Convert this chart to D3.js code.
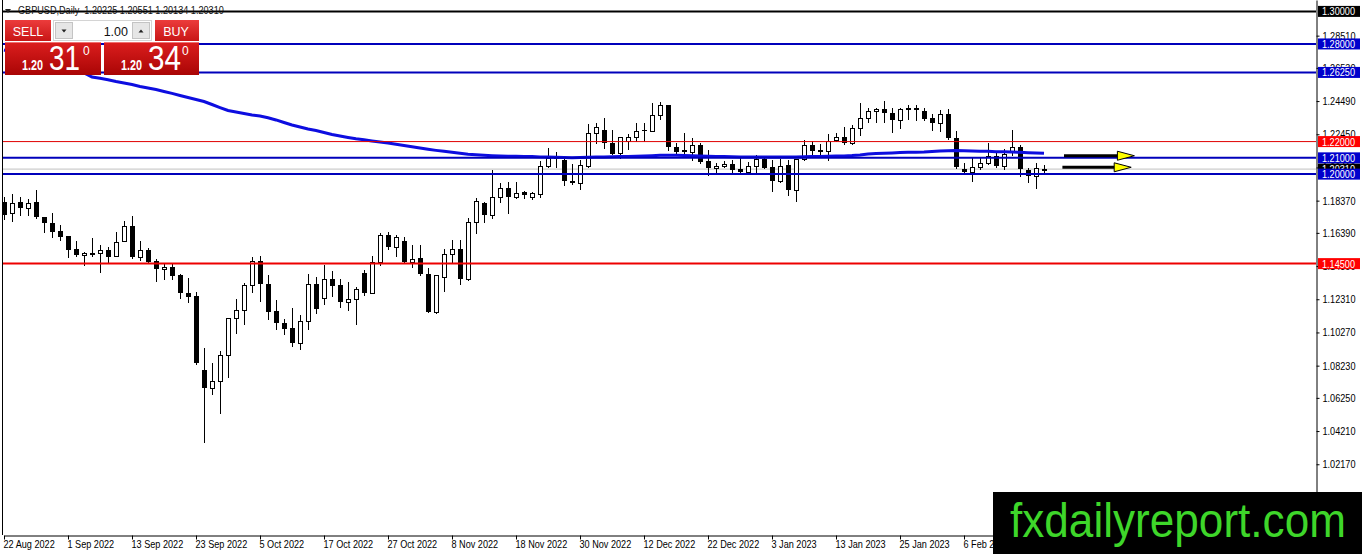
<!DOCTYPE html>
<html lang="en">
<head>
<meta charset="UTF-8">
<title>GBPUSD, Daily</title>
<script src="https://d3js.org/d3.v7.min.js"></script>
<style>
  body { margin: 0; background: #ffffff; overflow: hidden; }
  svg text { font-family: "Liberation Sans", Arial, sans-serif; }
</style>
</head>
<body>
<svg id="chart" width="1362" height="554"></svg>
<script>
// data (daily bars from 22 Aug 2022)
const symbol = "GBPUSD";
const period = "Daily";

const opens = [
  1.1830,1.1759,1.1829,1.1790,1.1827,1.1736,1.1701,1.1650,1.1620,1.1538,
  1.1501,1.1517,1.1513,1.1532,1.1497,1.1591,1.1681,1.1489,1.1534,1.1466,
  1.1415,1.1431,1.1380,1.1271,1.1251,1.0796,1.0684,1.0729,1.0886,1.1114,
  1.1163,1.1319,1.1468,1.1324,1.1159,1.1087,1.1052,1.0960,1.1097,1.1325,
  1.1237,1.1354,1.1318,1.1212,1.1231,1.1390,1.1271,1.1462,1.1626,1.1554,
  1.1589,1.1462,1.1483,1.1386,1.1155,1.1366,1.1507,1.1538,1.1354,1.1708,
  1.1821,1.1749,1.1861,1.1913,1.1858,1.1888,1.1859,1.1878,1.2050,1.2103,
  1.2087,1.1958,1.1944,1.2052,1.2251,1.2271,1.2189,1.2128,1.2205,1.2230,
  1.2273,1.2265,1.2361,1.2425,1.2169,1.2146,1.2138,1.2179,1.2080,1.2036,
  1.2050,1.2062,1.2029,1.2011,1.2050,1.2091,1.2046,1.1960,1.2056,1.1902,
  1.2091,1.2179,1.2144,1.2144,1.2210,1.2226,1.2189,1.2282,1.2343,1.2388,
  1.2400,1.2374,1.2333,1.2408,1.2408,1.2388,1.2343,1.2312,1.2368,1.2220,
  1.2031,1.2015,1.2042,1.2066,1.2113,1.2052,1.2142,1.2169,1.2025,1.1986,
  1.20225
];
const highs = [
  1.1859,1.1878,1.1861,1.1847,1.1902,1.1738,1.1759,1.1687,1.1621,1.1589,
  1.1523,1.1606,1.1564,1.1554,1.1643,1.1714,1.1743,1.1589,1.1544,1.1478,
  1.1447,1.1447,1.1386,1.1360,1.1274,1.0930,1.0837,1.0913,1.1115,1.1231,
  1.1333,1.1493,1.1497,1.1380,1.1226,1.1108,1.1175,1.1134,1.1384,1.1370,
  1.1442,1.1407,1.1354,1.1335,1.1308,1.1411,1.1499,1.1640,1.1646,1.1626,
  1.1612,1.1564,1.1564,1.1421,1.1381,1.1540,1.1595,1.1595,1.1728,1.1851,
  1.1827,1.2025,1.1944,1.1950,1.1954,1.1896,1.1892,1.2083,1.2159,1.2134,
  1.2107,1.2062,1.2087,1.2306,1.2312,1.2343,1.2271,1.2231,1.2245,1.2312,
  1.2312,1.2435,1.2445,1.2426,1.2189,1.2253,1.2224,1.2189,1.2148,1.2066,
  1.2083,1.2087,1.2097,1.2076,1.2118,1.2107,1.2087,1.2091,1.2087,1.2092,
  1.2210,1.2204,1.2183,1.2245,1.2251,1.2291,1.2302,1.2435,1.2405,1.2408,
  1.2449,1.2408,1.2408,1.2425,1.2425,1.2405,1.2368,1.2394,1.2400,1.2265,
  1.2066,1.2103,1.2097,1.2189,1.2128,1.2153,1.2271,1.2179,1.2036,1.2066,
  1.20551
];
const lows = [
  1.1724,1.1714,1.1751,1.1751,1.1733,1.1646,1.1616,1.1595,1.1492,1.1497,
  1.1441,1.1497,1.1400,1.1462,1.1495,1.1590,1.1487,1.1472,1.1457,1.1345,
  1.1354,1.1354,1.1237,1.1212,1.0836,1.0354,1.0649,1.0534,1.0755,1.1022,
  1.1079,1.1278,1.1222,1.1109,1.1048,1.1017,1.0944,1.0923,1.1048,1.1145,
  1.1202,1.1253,1.1182,1.1165,1.1077,1.1257,1.1268,1.1443,1.1540,1.1499,
  1.1458,1.1431,1.1380,1.1151,1.1145,1.1282,1.1462,1.1325,1.1352,1.1640,
  1.1708,1.1732,1.1827,1.1759,1.1855,1.1853,1.1847,1.1859,1.2045,1.2046,
  1.1933,1.1942,1.1907,1.2046,1.2189,1.2159,1.2122,1.2097,1.2153,1.2205,
  1.2205,1.2263,1.2339,1.2148,1.2128,1.2117,1.2087,1.2066,1.1995,1.2015,
  1.2046,1.2011,1.2011,1.2005,1.2011,1.2036,1.1898,1.1950,1.1872,1.1835,
  1.2087,1.2107,1.2113,1.2087,1.2204,1.2183,1.2183,1.2240,1.2319,1.2322,
  1.2319,1.2261,1.2282,1.2339,1.2333,1.2333,1.2271,1.2265,1.2216,1.2040,
  1.2011,1.1958,1.2032,1.2060,1.2046,1.2032,1.2118,1.1986,1.1954,1.1913,
  1.20134
];
const closes = [
  1.1749,1.1824,1.1790,1.1824,1.1735,1.1701,1.1644,1.1616,1.1534,1.1505,
  1.1515,1.1518,1.1534,1.1493,1.1581,1.1679,1.1489,1.1534,1.1458,1.1415,
  1.1427,1.1376,1.1268,1.1247,1.0837,1.0684,1.0729,1.0886,1.1114,1.1163,
  1.1319,1.1468,1.1323,1.1155,1.1087,1.1048,1.0964,1.1097,1.1325,1.1171,
  1.1354,1.1314,1.1212,1.1231,1.1292,1.1271,1.1462,1.1626,1.1554,1.1612,
  1.1462,1.1480,1.1384,1.1155,1.1380,1.1507,1.1538,1.1354,1.1708,1.1835,
  1.1749,1.1861,1.1913,1.1858,1.1882,1.1869,1.1882,1.2050,1.2101,1.2091,
  1.1958,1.1944,1.2056,1.2251,1.2288,1.2189,1.2124,1.2230,1.2230,1.2265,
  1.2265,1.2363,1.2425,1.2169,1.2138,1.2138,1.2179,1.2076,1.2036,1.2050,
  1.2062,1.2025,1.2015,1.2050,1.2091,1.2040,1.1960,1.2050,1.1902,1.2091,
  1.2179,1.2144,1.2148,1.2205,1.2226,1.2189,1.2282,1.2343,1.2388,1.2398,
  1.2374,1.2333,1.2400,1.2394,1.2394,1.2339,1.2312,1.2368,1.2220,1.2042,
  1.2015,1.2042,1.2066,1.2113,1.2052,1.2122,1.2169,1.2032,1.1986,1.2036,
  1.20310
];
// moving average
const maValues = [
  1.2763,1.2751,1.2738,1.2726,1.2714,1.2701,1.2689,1.2677,1.2664,1.2646,
  1.2622,1.2597,1.2589,1.2580,1.2569,1.2560,1.2551,1.2539,1.2529,1.2520,
  1.2508,1.2496,1.2483,1.2471,1.2459,1.2446,1.2428,1.2409,1.2391,1.2382,
  1.2373,1.2363,1.2357,1.2346,1.2333,1.2317,1.2302,1.2290,1.2277,1.2268,
  1.2256,1.2244,1.2234,1.2225,1.2217,1.2211,1.2204,1.2197,1.2191,1.2183,
  1.2176,1.2168,1.2161,1.2153,1.2146,1.2140,1.2134,1.2128,1.2122,1.2119,
  1.2116,1.2113,1.2111,1.2110,1.2110,1.2108,1.2108,1.2106,1.2105,1.2103,
  1.2102,1.2101,1.2102,1.2104,1.2105,1.2106,1.2107,1.2108,1.2108,1.2110,
  1.2111,1.2113,1.2116,1.2116,1.2116,1.2115,1.2113,1.2111,1.2110,1.2109,
  1.2108,1.2107,1.2106,1.2106,1.2106,1.2106,1.2106,1.2106,1.2106,1.2106,
  1.2107,1.2108,1.2108,1.2110,1.2111,1.2112,1.2114,1.2118,1.2124,1.2127,
  1.2128,1.2130,1.2133,1.2134,1.2135,1.2136,1.2139,1.2142,1.2144,1.2145,
  1.2143,1.2142,1.2141,1.2140,1.2138,1.2137,1.2136,1.2134,1.2132,1.2130,
  1.2128
];

const priceTicks = [1.28510, 1.26530, 1.24490, 1.22450, 1.20410, 1.18370, 1.16390,
  1.14350, 1.12310, 1.10270, 1.08230, 1.06250, 1.04210, 1.02170];
const dateLabels = ["22 Aug 2022", "1 Sep 2022", "13 Sep 2022", "23 Sep 2022", "5 Oct 2022",
  "17 Oct 2022", "27 Oct 2022", "8 Nov 2022", "18 Nov 2022", "30 Nov 2022", "12 Dec 2022",
  "22 Dec 2022", "3 Jan 2023", "13 Jan 2023", "25 Jan 2023", "6 Feb 2023"];
const labelEvery = 8;

const levelPrices = [1.30, 1.28, 1.2625, 1.22, 1.21, 1.20, 1.145];
const bidPrice = 1.20310;
const askPrice = 1.20340;
const lotSize = "1.00";

const arrowPrices = [1.2113, 1.2042];
const arrowFrom = [132.5, 132.3];
const arrowTo = [141.3, 140.9];

const siteName = "fxdailyreport.com";

// styles
const levelStroke = ["#000000", "#0000bb", "#0000bb", "#e00000", "#0000bb", "#0000bb", "#ee0000"];
const levelWidth = [2, 2, 2, 1, 2, 2, 2];
const levelBox = ["#000000", "#0000cc", "#0000cc", "#ff0000", "#0000cc", "#0000cc", "#ff0000"];
const narrow = "scale(0.83,1)";

const svg = d3.select("#chart");
const x = d3.scaleLinear().domain([0, 164]).range([4, 1316]);
const y = d3.scaleLinear().domain([0.97822, 1.30701]).range([535, 0]);
const fmt5 = d3.format(".5f");

svg.append("rect").attr("width", 1362).attr("height", 554).attr("fill", "#ffffff");

// bid line
svg.append("line")
  .attr("x1", 2).attr("x2", 1316)
  .attr("y1", y(bidPrice)).attr("y2", y(bidPrice))
  .attr("stroke", "#c0c0c0").attr("stroke-width", 1);

// candles
const bars = opens.map((o, i) => ({ i, o, h: highs[i], l: lows[i], c: closes[i] }));
const up = d => d.c > d.o;
const cx = d => Math.round(x(d.i));
const candles = svg.append("g").attr("shape-rendering", "crispEdges");

candles.selectAll(".wick").data(bars).join("line")
  .attr("class", "wick")
  .attr("x1", d => cx(d) + 0.5).attr("x2", d => cx(d) + 0.5)
  .attr("y1", d => Math.round(y(d.h))).attr("y2", d => Math.round(y(d.l)) + 1)
  .attr("stroke", "#000");

candles.selectAll(".body").data(bars).join("rect")
  .attr("class", "body")
  .attr("x", d => up(d) ? cx(d) - 1.5 : cx(d) - 2)
  .attr("width", d => up(d) ? 4 : 5)
  .attr("y", d => {
    const t = Math.round(y(Math.max(d.o, d.c)));
    return up(d) ? t + 0.5 : t;
  })
  .attr("height", d => {
    const h = Math.round(y(Math.min(d.o, d.c))) - Math.round(y(Math.max(d.o, d.c)));
    return Math.max(h, 1);
  })
  .attr("fill", d => up(d) ? "#ffffff" : "#000000")
  .attr("stroke", d => up(d) ? "#000000" : "none");

// moving average
svg.append("path")
  .datum(maValues)
  .attr("fill", "none")
  .attr("stroke", "#0d0de0")
  .attr("stroke-width", 3)
  .attr("d", d3.line().x((d, i) => x(i)).y(d => y(d)));

// horizontal levels
svg.append("g").selectAll("line").data(levelPrices).join("line")
  .attr("x1", 2).attr("x2", 1316)
  .attr("y1", d => y(d)).attr("y2", d => y(d))
  .attr("stroke", (d, i) => levelStroke[i])
  .attr("stroke-width", (d, i) => levelWidth[i]);

// arrows
arrowPrices.forEach((p, k) => {
  const yy = y(p), x0 = x(arrowFrom[k]), x1 = x(arrowTo[k]);
  svg.append("line")
    .attr("x1", x0).attr("x2", x1 - 16)
    .attr("y1", yy).attr("y2", yy)
    .attr("stroke", "#000").attr("stroke-width", 3);
  svg.append("path")
    .attr("d", `M${x1 - 17},${yy - 4.5}L${x1},${yy}L${x1 - 17},${yy + 4.5}Z`)
    .attr("fill", "#ffff00").attr("stroke", "#000").attr("stroke-width", 1);
});

// frame
svg.append("line")
  .attr("x1", 2.5).attr("x2", 2.5).attr("y1", 0).attr("y2", 535)
  .attr("stroke", "#000");

// price axis
const yAxis = svg.append("g")
  .attr("transform", "translate(1316.5,0)")
  .call(d3.axisRight(y).tickValues(priceTicks).tickFormat(fmt5).tickSize(3).tickSizeOuter(0));
yAxis.attr("font-size", 11).attr("font-family", "Liberation Sans, Arial, sans-serif");
yAxis.selectAll("text").attr("x", null).attr("transform", `translate(6,0) ${narrow}`).attr("fill", "#000");

// time axis
const xAxis = svg.append("g")
  .attr("transform", "translate(0,535.5)")
  .call(d3.axisBottom(x)
    .tickValues(dateLabels.map((d, k) => k * labelEvery))
    .tickFormat((d, k) => dateLabels[k])
    .tickSize(4).tickSizeOuter(0));
xAxis.attr("font-size", 11).attr("font-family", "Liberation Sans, Arial, sans-serif");
xAxis.selectAll("text")
  .attr("y", null).attr("text-anchor", "start")
  .attr("transform", `translate(-1,5) ${narrow}`).attr("fill", "#000");

// price boxes on the axis
function axisBox(price, color) {
  const yy = y(price);
  svg.append("rect")
    .attr("x", 1318).attr("y", yy - 5.5).attr("width", 42).attr("height", 11)
    .attr("fill", color);
  svg.append("text")
    .attr("transform", `translate(1322,${yy + 4}) ${narrow}`)
    .attr("font-size", 11).attr("fill", "#ffffff")
    .text(fmt5(price));
}
axisBox(bidPrice, "#000000");
levelPrices.forEach((p, i) => axisBox(p, levelBox[i]));

// title
const last = bars[bars.length - 1];
svg.append("path").attr("d", "M5,9L11,9L8,13Z").attr("fill", "#222");
svg.append("text")
  .attr("transform", `translate(18,14) ${narrow}`)
  .attr("font-size", 11).attr("fill", "#111")
  .attr("xml:space", "preserve")
  .text(`${symbol},${period}  ${[last.o, last.h, last.l, last.c].map(fmt5).join(" ")}`);

// one-click trading panel
const defs = svg.append("defs");
function grad(id, c1, c2) {
  const g = defs.append("linearGradient").attr("id", id)
    .attr("x1", 0).attr("y1", 0).attr("x2", 0).attr("y2", 1);
  g.append("stop").attr("offset", "0%").attr("stop-color", c1);
  g.append("stop").attr("offset", "100%").attr("stop-color", c2);
}
grad("btnRed", "#ec3c3c", "#c81616");
grad("boxRed", "#dc1e1e", "#a90505");

const panel = svg.append("g");
panel.append("rect").attr("x", 5).attr("y", 20).attr("width", 46).attr("height", 21).attr("fill", "url(#btnRed)");
panel.append("text").attr("x", 28).attr("y", 35.5).attr("text-anchor", "middle")
  .attr("font-size", 12.5).attr("fill", "#fff").text("SELL");

panel.append("rect").attr("x", 53.5).attr("y", 20.5).attr("width", 98).attr("height", 20)
  .attr("fill", "#fff").attr("stroke", "#d4d4d4");
panel.append("rect").attr("x", 55.5).attr("y", 22.5).attr("width", 17).attr("height", 16)
  .attr("fill", "#e6e6e6").attr("stroke", "#c4c4c4");
panel.append("rect").attr("x", 132.5).attr("y", 22.5).attr("width", 17).attr("height", 16)
  .attr("fill", "#e6e6e6").attr("stroke", "#c4c4c4");
panel.append("path").attr("d", "M61.5,29.5L66.5,29.5L64,32.5Z").attr("fill", "#222");
panel.append("path").attr("d", "M138.5,32.5L143.5,32.5L141,29.5Z").attr("fill", "#222");
panel.append("text").attr("x", 128).attr("y", 35.5).attr("text-anchor", "end")
  .attr("font-size", 12.5).attr("fill", "#111").text(lotSize);

panel.append("rect").attr("x", 155).attr("y", 20).attr("width", 44).attr("height", 21).attr("fill", "url(#btnRed)");
panel.append("text").attr("x", 176).attr("y", 35.5).attr("text-anchor", "middle")
  .attr("font-size", 12.5).attr("fill", "#fff").text("BUY");

function priceBox(x0, w, price, bigLen) {
  const s = price.toFixed(5);
  panel.append("rect").attr("x", x0).attr("y", 42).attr("width", w).attr("height", 33)
    .attr("fill", "url(#boxRed)");
  panel.append("line").attr("x1", x0).attr("x2", x0 + w).attr("y1", 42.5).attr("y2", 42.5)
    .attr("stroke", "#f07070");
  panel.append("text").attr("x", x0 + 17).attr("y", 70)
    .attr("font-size", 14).attr("font-weight", "bold").attr("fill", "#fff")
    .attr("textLength", 21).attr("lengthAdjust", "spacingAndGlyphs").text(s.slice(0, 4));
  panel.append("text").attr("x", x0 + 44).attr("y", 70)
    .attr("font-size", 35).attr("fill", "#fff")
    .attr("textLength", bigLen).attr("lengthAdjust", "spacingAndGlyphs").text(s.slice(4, 6));
  panel.append("text").attr("x", x0 + 78).attr("y", 55)
    .attr("font-size", 12).attr("fill", "#fff").text(s.slice(6));
}
priceBox(5, 96, bidPrice, 31);
priceBox(104, 95, askPrice, 33);

// watermark
svg.append("rect").attr("x", 993).attr("y", 492).attr("width", 369).attr("height", 62).attr("fill", "#000");
svg.append("text")
  .attr("x", 1010).attr("y", 537)
  .attr("font-size", 48).attr("fill", "#3ed62a")
  .attr("textLength", 336).attr("lengthAdjust", "spacingAndGlyphs")
  .text(siteName);
</script>
</body>
</html>
